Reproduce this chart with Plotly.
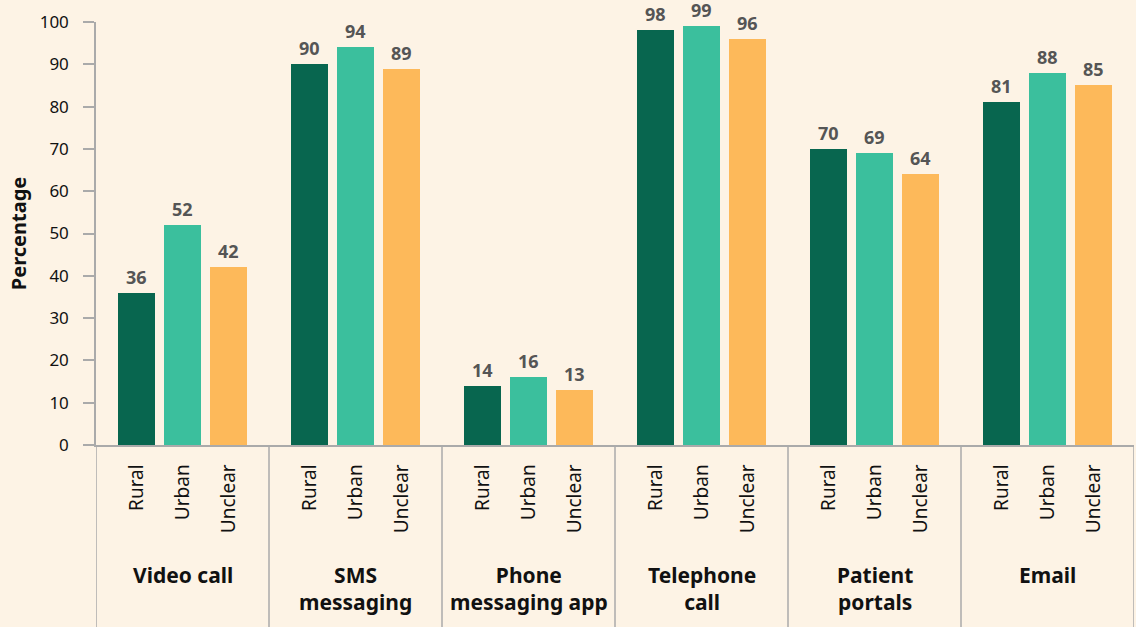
import plotly.graph_objects as go

categories = ["Video call", "SMS<br>messaging", "Phone<br>messaging app",
              "Telephone<br>call", "Patient<br>portals", "Email"]
subgroups = ["Rural", "Urban", "Unclear"]
rural = [36, 90, 14, 98, 70, 81]
urban = [52, 94, 16, 99, 69, 88]
unclear = [42, 89, 13, 96, 64, 85]
y_ticks = list(range(0, 101, 10))

colors = ["#08664F", "#3BBF9D", "#FDB95A"]
bg = "#FDF3E5"
G = 173 / 46  # group span in bar-spacing units
label_font = "Source Sans Pro, Noto Sans, sans-serif"

series = [rural, urban, unclear]
fig = go.Figure()
tickvals, ticktext = [], []
annotations = []
for si, (name, vals) in enumerate(zip(subgroups, series)):
    xs = [g * G + (si - 1) for g in range(len(categories))]
    fig.add_trace(go.Bar(x=xs, y=vals, name=name, width=0.80,
                         marker=dict(color=colors[si], line=dict(width=0)),
                         showlegend=False))
    for x, v in zip(xs, vals):
        tickvals.append(x)
        ticktext.append(name)
        annotations.append(dict(x=x, y=v, xref="x", yref="y", text=f"<b>{v}</b>",
                                showarrow=False, yanchor="bottom", yshift=3,
                                borderpad=0,
                                font=dict(family=label_font, size=18, color="#555555")))

for g, cat in enumerate(categories):
    annotations.append(dict(x=g * G, y=-0.27, xref="x", yref="paper",
                            text=f"<b>{cat}</b>", showarrow=False, yanchor="top",
                            font=dict(family=label_font, size=21, color="#111111")))

shapes = []
for g in range(len(categories) + 1):
    xb = g * G - G / 2
    shapes.append(dict(type="line", xref="x", yref="paper", x0=xb, x1=xb,
                       y0=0, y1=-0.6, line=dict(color="#AAAAAA", width=1.5)))

fig.update_layout(
    width=1136, height=627,
    paper_bgcolor=bg, plot_bgcolor=bg,
    margin=dict(l=96, r=2, t=22, b=182),
    bargap=0,
    annotations=annotations,
    shapes=shapes,
    xaxis=dict(range=[-G / 2, len(categories) * G - G / 2],
               tickvals=tickvals, ticktext=ticktext, tickangle=-90,
               ticks="", ticklabelstandoff=10, showgrid=False, zeroline=False,
               showline=True, linecolor="#AAAAAA", linewidth=1.5,
               tickfont=dict(family=label_font, size=19, color="#111111")),
    yaxis=dict(range=[0, 100], tickvals=y_ticks, ticks="outside", ticklen=11,
               tickcolor="#AAAAAA", tickwidth=1.5, showgrid=False, zeroline=False,
               showline=True, linecolor="#AAAAAA", linewidth=1.5,
               ticklabelstandoff=11,
               tickfont=dict(family="Noto Sans, sans-serif", size=17, color="#111111"),
               title=dict(text="<b>Percentage</b>", standoff=8,
                          font=dict(family=label_font, size=20, color="#111111"))),
)

fig.write_html("out.html", config={"displayModeBar": False})
with open("out.html", "r", encoding="utf-8") as f:
    html = f.read()
html = html.replace("<head>", "<head><style>html,body{margin:0;padding:0;overflow:hidden;}</style>", 1)
with open("out.html", "w", encoding="utf-8") as f:
    f.write(html)
